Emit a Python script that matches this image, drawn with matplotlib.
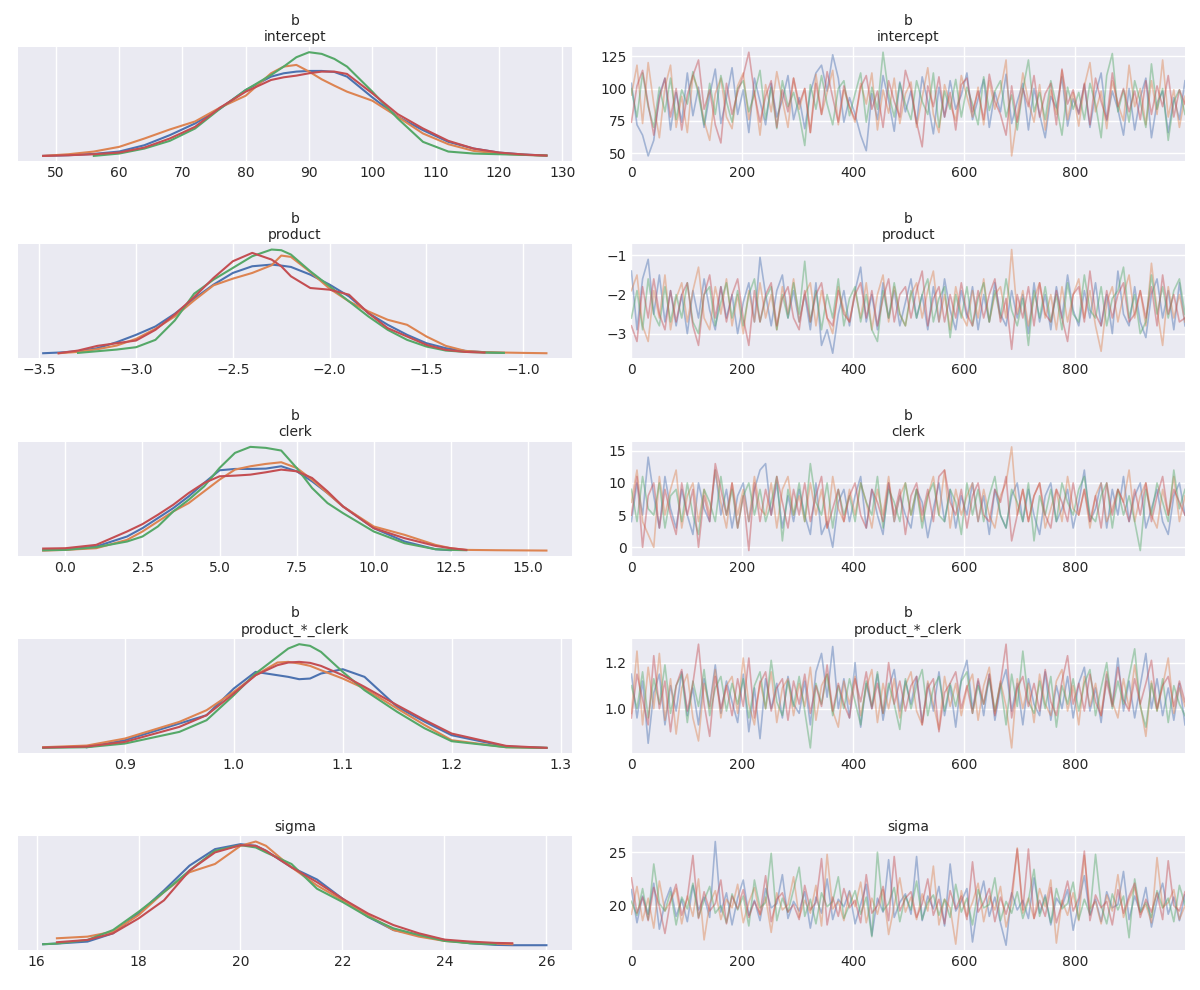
import numpy as np
import matplotlib
matplotlib.use("Agg")
import matplotlib.pyplot as plt

nan = np.nan

# ------------------------------------------------------------
# chain colours (seaborn "deep")
# ------------------------------------------------------------
chain_colors = ["#4C72B0", "#DD8452", "#55A868", "#C44E52"]

# ------------------------------------------------------------
# KDE curves (relative density, per chain)
# ------------------------------------------------------------
kde_intercept_x = [48, 52, 56, 60, 64, 68, 72, 76, 80, 84, 86, 88, 90, 92, 94, 96,
                   100, 104, 108, 112, 116, 120, 124, 127.5]
kde_intercept = [
    [3, 5, 9, 16, 35, 65, 100, 145, 200, 240, 250, 255, 257, 257, 254, 240, 178, 120, 80, 45, 25, 13, 7, 4],
    [3, 8, 16, 30, 55, 82, 106, 148, 183, 250, 270, 275, 255, 232, 213, 195, 168, 120, 70, 38, 18, 10, 6, 4],
    [nan, nan, 3, 10, 25, 48, 85, 145, 200, 245, 270, 298, 313, 308, 293, 270, 195, 115, 45, 16, 10, 8, 6, 4],
    [3, 5, 8, 13, 28, 55, 90, 148, 195, 230, 238, 243, 250, 255, 255, 248, 190, 128, 85, 48, 25, 13, 7, 4],
]

kde_product_x = [-3.48, -3.4, -3.3, -3.2, -3.1, -3.0, -2.9, -2.8, -2.7, -2.6, -2.5, -2.4, -2.3, -2.25,
                 -2.2, -2.1, -2.0, -1.9, -1.8, -1.7, -1.6, -1.5, -1.4, -1.3, -1.2, -1.1, -1.0, -0.88]
kde_product = [
    [2, 4, 8, 17, 35, 57, 82, 120, 165, 207, 242, 262, 267, 264, 260, 237, 207, 172, 122, 87, 57, 32, 17, 9, 5, 3, nan, nan],
    [nan, 2, 6, 14, 25, 45, 75, 112, 160, 205, 225, 242, 265, 294, 290, 245, 195, 157, 127, 102, 87, 52, 24, 9, 5, 4, 3, 2],
    [nan, nan, 3, 8, 13, 20, 42, 100, 180, 222, 257, 292, 312, 310, 297, 247, 202, 157, 112, 72, 42, 22, 10, 6, 4, 3, nan, nan],
    [nan, 2, 10, 24, 32, 40, 72, 118, 170, 227, 277, 302, 282, 262, 232, 197, 192, 177, 122, 77, 52, 27, 12, 6, 4, nan, nan, nan],
]

kde_clerk_x = [-0.72, 0, 1, 2, 2.5, 3, 3.5, 4, 4.5, 5, 5.5, 6, 6.5, 7, 7.5, 8, 8.5, 9,
               10, 11, 12, 12.5, 13, 14, 15.6]
kde_clerk = [
    [2, 4, 13, 43, 68, 98, 128, 163, 203, 241, 245, 245, 246, 253, 238, 208, 173, 133, 68, 28, 5, 2, nan, nan, nan],
    [1, 3, 8, 33, 58, 88, 118, 143, 178, 213, 243, 253, 260, 265, 248, 213, 173, 133, 73, 48, 18, 8, 3, 2, 1],
    [2, 3, 11, 28, 43, 73, 118, 153, 193, 248, 293, 311, 308, 300, 248, 188, 143, 113, 58, 23, 5, 3, 2, nan, nan],
    [7, 8, 18, 58, 80, 108, 138, 173, 203, 223, 225, 228, 235, 243, 238, 218, 178, 133, 68, 38, 15, 8, 3, nan, nan],
]

kde_pc_x = [0.825, 0.865, 0.9, 0.95, 0.975, 1.0, 1.02, 1.04, 1.05, 1.06, 1.07, 1.08, 1.1,
            1.12, 1.15, 1.175, 1.2, 1.25, 1.287]
kde_pc = [
    [nan, 3, 24, 74, 99, 179, 229, 219, 214, 207, 209, 224, 237, 214, 124, 80, 39, 5, 1],
    [3, 8, 29, 79, 114, 169, 219, 257, 259, 254, 247, 234, 209, 179, 119, 70, 24, 3, 1],
    [1, 3, 14, 49, 84, 159, 224, 274, 299, 312, 307, 289, 229, 174, 109, 60, 21, 3, 1],
    [2, 5, 19, 64, 99, 164, 219, 249, 257, 259, 256, 247, 219, 184, 129, 85, 44, 7, 1],
]

kde_sigma_x = [16.13, 16.4, 17, 17.5, 18, 18.5, 19, 19.5, 20, 20.3, 20.5, 21, 21.5, 22,
               22.5, 23, 23.5, 24, 24.5, 25, 25.33, 26]
kde_sigma = [
    [4, 6, 12, 37, 97, 167, 242, 292, 307, 302, 287, 237, 200, 142, 87, 47, 32, 17, 7, 2, 1, 1],
    [nan, 22, 27, 42, 92, 162, 222, 247, 302, 315, 302, 237, 182, 137, 92, 47, 27, 14, 8, 6, 4, nan],
    [4, 6, 17, 47, 102, 162, 227, 287, 304, 297, 282, 247, 172, 132, 87, 52, 32, 14, 7, 4, nan, nan],
    [nan, 10, 17, 37, 82, 137, 227, 282, 304, 302, 287, 237, 192, 142, 97, 62, 37, 18, 12, 8, 7, nan],
]

# ------------------------------------------------------------
# traces (thinned draws), draws 0..999
# ------------------------------------------------------------
trace_intercept = [
    [104, 72, 64, 48, 60, 95, 108, 68, 97, 74, 112, 79, 101, 70, 95, 115, 73, 93, 116, 80,
     99, 66, 108, 90, 72, 104, 78, 91, 110, 76, 93, 69, 97, 112, 118, 98, 126, 108, 74, 93,
     80, 64, 52, 96, 76, 110, 91, 67, 105, 82, 98, 73, 109, 90, 65, 101, 78, 106, 84, 95,
     112, 76, 92, 107, 70, 97, 82, 111, 73, 90, 104, 68, 100, 80, 62, 94, 85, 109, 71, 92,
     81, 103, 70, 96, 112, 75, 98, 84, 64, 100, 68, 93, 108, 62, 89, 98, 66, 93, 76, 106],
    [95, 118, 73, 120, 88, 62, 101, 118, 70, 94, 66, 110, 99, 75, 60, 96, 108, 78, 69, 102,
     112, 76, 98, 64, 103, 82, 113, 91, 70, 108, 84, 100, 66, 111, 80, 97, 114, 72, 99, 86,
     74, 104, 88, 112, 68, 99, 81, 108, 73, 96, 105, 70, 93, 116, 80, 66, 103, 88, 75, 110,
     94, 78, 101, 72, 106, 84, 98, 122, 48, 78, 112, 90, 74, 103, 68, 99, 80, 114, 76, 97,
     71, 102, 120, 82, 98, 69, 106, 88, 75, 118, 86, 100, 72, 106, 80, 122, 78, 99, 70, 94],
    [100, 78, 112, 86, 70, 101, 82, 108, 76, 99, 88, 113, 95, 72, 104, 80, 110, 90, 74, 100,
     106, 82, 96, 114, 76, 101, 69, 106, 86, 97, 80, 56, 103, 84, 110, 88, 72, 100, 106, 79,
     96, 112, 74, 101, 84, 128, 96, 78, 104, 88, 76, 106, 90, 80, 112, 70, 98, 84, 107, 78,
     101, 88, 72, 109, 83, 98, 106, 78, 95, 68, 99, 122, 82, 97, 76, 106, 87, 64, 101, 84,
     97, 76, 104, 88, 62, 110, 127, 82, 99, 74, 106, 90, 70, 119, 84, 100, 60, 90, 99, 80],
    [74, 102, 114, 88, 64, 92, 108, 78, 100, 68, 95, 110, 122, 84, 99, 72, 58, 104, 80, 97,
     110, 128, 96, 74, 94, 106, 70, 99, 82, 108, 88, 100, 66, 104, 80, 113, 93, 74, 102, 86,
     76, 101, 110, 84, 98, 70, 106, 90, 78, 114, 99, 74, 55, 102, 86, 109, 78, 97, 68, 103,
     108, 82, 98, 76, 111, 90, 80, 64, 102, 74, 100, 86, 110, 78, 96, 104, 72, 115, 88, 99,
     80, 104, 72, 108, 90, 76, 112, 86, 100, 82, 98, 76, 106, 80, 102, 86, 110, 78, 99, 88],
]

trace_product = [
    [-1.4, -2.9, -1.6, -1.1, -2.5, -1.5, -2.7, -1.9, -2.8, -2.0, -3.0, -1.9, -2.6, -1.6, -2.4,
     -2.9, -1.8, -2.6, -2.0, -3.0, -2.2, -1.7, -2.7, -1.05, -2.0, -2.8, -1.9, -1.5, -2.6, -1.9,
     -2.7, -2.0, -2.9, -1.7, -3.3, -2.9, -3.5, -2.5, -1.9, -2.8, -1.9, -1.3, -2.7, -2.0, -2.9,
     -1.7, -2.6, -1.9, -2.8, -2.2, -1.6, -2.6, -2.0, -2.9, -1.8, -2.7, -1.6, -2.4, -2.9, -1.9,
     -2.6, -1.8, -2.9, -2.0, -2.7, -1.7, -2.5, -2.8, -1.9, -2.6, -2.0, -3.0, -1.7, -2.7, -2.0,
     -2.9, -1.8, -2.6, -1.5, -2.4, -2.8, -1.9, -2.6, -1.7, -2.8, -2.0, -3.0, -1.4, -2.5, -2.8,
     -1.8, -2.7, -3.1, -2.0, -1.6, -2.6, -1.9, -2.9, -1.7, -2.8],
    [-1.9, -1.5, -2.8, -3.2, -1.9, -2.6, -1.5, -2.9, -2.1, -1.7, -2.7, -1.9, -1.3, -2.6, -2.9,
     -1.8, -2.5, -1.6, -2.8, -2.0, -3.0, -1.9, -2.7, -1.7, -2.6, -2.0, -2.9, -1.8, -2.5, -1.6,
     -2.7, -2.0, -1.7, -2.8, -1.9, -2.6, -3.0, -1.8, -2.4, -2.7, -1.9, -2.6, -1.7, -2.9, -2.0,
     -1.5, -2.7, -1.8, -2.5, -2.8, -2.0, -1.7, -2.6, -1.9, -1.4, -2.7, -2.0, -2.9, -1.8, -2.5,
     -2.8, -1.9, -2.6, -1.6, -2.7, -2.0, -1.8, -2.6, -0.85, -2.5, -1.9, -2.8, -2.1, -1.7, -2.6,
     -2.0, -2.9, -1.8, -2.7, -2.0, -1.6, -2.6, -1.9, -2.8, -3.45, -2.2, -1.8, -2.7, -2.0, -1.5,
     -2.6, -1.9, -2.8, -1.2, -2.4, -3.3, -1.8, -2.6, -2.0, -2.7],
    [-2.6, -1.9, -2.9, -1.6, -2.5, -2.8, -1.8, -2.7, -2.0, -2.6, -1.7, -2.7, -3.0, -2.0, -1.8,
     -2.8, -2.2, -1.7, -2.6, -1.9, -2.8, -2.0, -1.6, -2.7, -2.1, -1.8, -2.9, -2.0, -2.6, -1.7,
     -2.5, -1.15, -2.7, -1.9, -2.9, -2.0, -2.6, -1.6, -2.8, -2.1, -1.8, -2.7, -2.0, -2.9, -3.2,
     -1.9, -2.6, -1.7, -2.5, -2.8, -1.9, -2.6, -2.0, -1.6, -2.7, -2.1, -1.8, -3.1, -2.0, -2.6,
     -1.8, -2.8, -2.1, -1.7, -2.7, -1.9, -2.6, -1.6, -2.4, -2.8, -2.1, -3.3, -1.9, -2.6, -1.8,
     -2.7, -2.0, -2.9, -1.7, -2.5, -2.7, -1.5, -2.4, -2.6, -1.8, -2.8, -2.1, -1.9, -1.3, -2.6,
     -2.0, -3.0, -2.7, -1.5, -2.5, -1.8, -2.6, -1.9, -1.6, -2.5],
    [-2.8, -3.2, -1.8, -2.6, -1.6, -2.5, -2.9, -1.9, -2.7, -2.0, -1.7, -2.8, -3.3, -2.0, -1.5,
     -2.6, -1.8, -2.7, -2.0, -1.6, -2.6, -3.3, -1.9, -2.7, -2.0, -1.7, -2.8, -2.1, -1.8, -2.6,
     -2.9, -1.9, -2.7, -2.0, -1.7, -2.6, -2.8, -1.9, -2.5, -2.7, -2.0, -1.7, -2.6, -1.9, -2.8,
     -2.1, -1.6, -2.7, -2.0, -1.8, -2.6, -1.9, -1.4, -2.8, -2.1, -1.8, -2.7, -2.0, -2.6, -1.7,
     -2.5, -2.8, -1.9, -2.6, -2.0, -1.6, -2.7, -2.1, -3.4, -2.0, -2.6, -1.8, -2.8, -1.7, -2.5,
     -2.7, -1.9, -2.6, -3.2, -2.0, -1.8, -2.7, -1.4, -2.5, -2.8, -1.9, -2.6, -2.0, -1.7, -2.7,
     -2.5, -1.9, -2.6, -1.8, -2.8, -1.5, -2.5, -2.0, -2.7, -2.6],
]

trace_clerk = [
    [4, 10, 5, 14, 8, 3, 11, 6, 3, 9, 5, 2, 10, 6, 4, 12, 5, 9, 3, 8,
     10, 4, 9, 12, 13, 5, 10, 3, 8, 4, 9, 5, 2, 10, 2, 4, 0, 7, 9, 4,
     8, 11, 3, 9, 5, 2, 10, 4, 8, 5, 3, 9, 7, 1.5, 6, 10, 4, 9, 3, 8,
     5, 10, 4, 8, 2, 9, 5, 3, 8, 10, 4, 9, 5, 2, 8, 10, 4, 6, 9, 3,
     7, 12, 4, 6, 10, 3, 9, 5, 11, 4, 8, 10, 3, 6, 9, 4, 2, 8, 10, 5],
    [7, 12, 4, 2, 0, 11, 5, 9, 12, 3, 8, 10, 4, 9, 5, 12, 7, 3, 10, 5,
     9, 4, 11, 6, 5, 10, 3, 9, 11, 5, 8, 4, 10, 5, 9, 3, 11, 6, 4, 9,
     5, 10, 7, 3, 9, 5, 11, 4, 8, 10, 5, 9, 4, 8, 11, 5, 12, 3, 9, 5,
     8, 10, 4, 9, 5, 3, 8, 10, 15.6, 5, 9, 4, 8, 10, 3, 6, 9, 4, 11, 6,
     5, 9, 3, 8, 10, 4, 6, 9, 7, 12, 4, 8, 10, 5, 3, 9, 5, 11, 4, 8],
    [9, 4, 11, 6, 5, 10, 3, 8, 9, 4, 10, 5, 2, 9, 7, 4, 11, 5, 9, 3,
     8, 10, 5, 9, 4, 7, 11, 1, 9, 5, 10, 4, 13, 7, 5, 10, 3, 9, 5, 8,
     4, 10, 7, 5, 11, 3, 9, 7, 4, 10, 5, 9, 3, 8, 10, 5, 4, 9, 7, 2,
     10, 5, 9, 4, 8, 11, 5, 3, 9, 7, 4, 10, 1, 8, 5, 9, 4, 10, 7, 5,
     9, 11, 5, 4, 8, 10, 3, 9, 5, 8, 4, -0.5, 9, 5, 10, 7, 4, 12, 6, 9],
    [5, 11, 0, 8, 10, 3, 9, 5, 2, 10, 5, 9, 0, 8, 4, 13, 9, 5, 10, 3,
     8, -0.5, 10, 4, 9, 5, 11, 7, 3, 9, 5, 10, 4, 8, 11, 3, 6, 9, 4, 8,
     10, 5, 3, 9, 7, 4, 10, 5, 9, 2, 8, 10, 5, 9, 4, 11, 12, 7, 5, 9,
     3, 8, 10, 5, 4, 9, 7, 11, 1, 5, 9, 4, 8, 10, 5, 3, 9, 7, 4, 10,
     5, 9, 4, 8, 3, 10, 5, 9, 7, 4, 9, 5, 10, 4, 8, 11, 5, 9, 7, 5],
]

trace_pc = [
    [1.15, 0.96, 1.12, 0.85, 1.07, 1.15, 0.93, 1.10, 0.99, 1.16, 0.97, 1.09, 0.93, 1.13, 1.01,
     1.19, 0.98, 1.12, 1.03, 0.94, 1.15, 0.90, 1.09, 0.87, 1.13, 1.00, 1.11, 0.96, 1.14, 1.02,
     0.98, 1.12, 0.93, 1.16, 1.24, 1.05, 1.27, 1.00, 1.13, 0.96, 1.20, 0.92, 1.11, 1.00, 1.15,
     0.95, 1.09, 1.17, 0.99, 1.12, 1.02, 1.14, 0.94, 1.11, 0.99, 1.16, 0.97, 1.10, 0.92, 1.13,
     1.21, 1.00, 1.12, 0.97, 1.15, 0.95, 1.09, 1.17, 0.99, 1.11, 0.93, 1.13, 1.02, 0.97, 1.16,
     0.95, 1.10, 1.00, 1.14, 0.96, 1.11, 1.18, 0.99, 1.09, 0.94, 1.15, 1.02, 1.22, 0.99, 1.12,
     0.96, 1.10, 1.24, 1.00, 1.13, 0.97, 1.09, 0.95, 1.11, 0.93],
    [0.98, 1.25, 0.93, 1.18, 1.00, 1.24, 0.95, 1.13, 0.89, 1.09, 1.15, 0.96, 0.86, 1.11, 1.00,
     1.17, 0.96, 1.10, 1.14, 0.98, 1.22, 1.02, 0.93, 1.12, 1.00, 1.16, 0.94, 1.09, 1.13, 0.97,
     1.11, 1.01, 1.18, 0.95, 1.10, 1.15, 0.99, 0.92, 1.12, 1.02, 1.14, 0.97, 1.09, 1.17, 0.94,
     1.11, 1.00, 1.13, 0.96, 1.10, 1.16, 0.99, 0.93, 1.12, 1.02, 0.91, 1.14, 1.01, 1.11, 0.97,
     1.09, 1.15, 0.95, 1.10, 1.18, 0.98, 1.12, 1.01, 0.83, 1.13, 1.00, 1.11, 0.94, 1.15, 1.02,
     0.97, 1.12, 1.17, 0.99, 1.10, 0.93, 1.14, 1.01, 1.11, 0.97, 1.16, 1.03, 0.96, 1.13, 1.00,
     1.19, 1.02, 0.88, 1.12, 0.99, 1.10, 1.22, 0.98, 1.09, 1.01],
    [1.10, 1.00, 1.16, 0.96, 1.13, 1.02, 1.19, 0.98, 1.10, 1.15, 0.94, 1.12, 1.01, 1.17, 0.97,
     1.09, 1.14, 0.99, 1.11, 1.02, 1.13, 0.96, 1.10, 1.16, 1.00, 1.21, 1.03, 0.97, 1.12, 1.01,
     1.14, 0.99, 0.83, 1.11, 1.02, 1.15, 0.97, 1.10, 1.00, 1.13, 1.03, 0.93, 1.12, 1.01, 1.16,
     0.98, 1.11, 1.02, 0.91, 1.13, 1.00, 1.10, 1.17, 0.97, 1.09, 1.14, 0.99, 1.11, 1.01, 1.12,
     1.16, 0.98, 1.10, 1.02, 1.13, 0.99, 1.11, 0.93, 1.15, 1.01, 1.25, 1.03, 0.98, 1.12, 1.00,
     1.14, 0.92, 1.10, 1.02, 1.13, 0.99, 1.11, 1.17, 0.97, 1.09, 1.20, 1.00, 1.12, 1.02, 1.14,
     1.26, 1.01, 0.92, 1.11, 0.99, 1.13, 0.94, 1.10, 1.02, 0.97],
    [0.96, 1.15, 1.04, 0.93, 1.23, 1.00, 1.12, 0.90, 1.10, 1.17, 0.99, 1.11, 1.28, 1.02, 0.88,
     1.14, 1.00, 1.10, 0.97, 1.13, 1.01, 1.22, 0.96, 1.11, 1.16, 0.99, 1.09, 1.13, 0.95, 1.12,
     1.02, 1.15, 0.98, 1.10, 1.01, 1.19, 0.99, 1.11, 1.02, 0.96, 1.13, 1.03, 1.16, 1.00, 1.11,
     0.98, 1.20, 1.02, 1.12, 0.99, 1.10, 1.14, 0.93, 1.09, 1.13, 0.90, 1.07, 1.11, 1.16, 1.00,
     1.10, 0.98, 1.13, 1.02, 1.15, 0.97, 1.11, 1.28, 0.96, 1.09, 1.14, 1.01, 1.11, 0.99, 1.17,
     1.03, 0.97, 1.12, 1.23, 1.02, 1.11, 0.99, 1.15, 1.03, 0.97, 1.12, 1.01, 1.18, 1.04, 0.99,
     1.13, 1.02, 1.11, 1.21, 1.00, 1.10, 1.14, 1.01, 1.12, 1.03],
]

trace_sigma = [
    [21.5, 18.4, 20.9, 19.2, 22.1, 17.8, 20.3, 21.7, 19.0, 20.6, 18.5, 21.9, 19.6, 20.8, 18.9,
     26.0, 19.4, 21.2, 18.2, 20.7, 22.4, 19.1, 20.5, 18.6, 21.6, 19.8, 20.2, 22.9, 18.8, 20.4,
     19.5, 21.3, 17.9, 20.8, 19.3, 22.5, 18.7, 20.6, 19.9, 21.4, 18.3, 20.1, 22.0, 17.2, 20.7,
     19.4, 24.3, 18.9, 20.3, 21.1, 19.2, 24.6, 18.6, 20.9, 19.7, 21.8, 18.1, 23.9, 19.5, 20.4,
     21.6, 16.6, 20.2, 22.3, 19.0, 20.8, 18.4, 16.3, 21.2, 19.6, 20.5, 18.8, 22.6, 19.3, 21.0,
     18.2, 20.7, 19.9, 21.5, 17.7, 20.3, 22.8, 19.1, 20.6, 18.5, 21.3, 19.8, 20.1, 23.2, 18.7,
     20.9, 19.4, 21.7, 18.0, 20.5, 22.1, 19.2, 20.8, 18.6, 21.0],
    [19.2, 21.8, 18.6, 20.7, 17.9, 22.3, 19.5, 20.4, 21.6, 18.3, 20.9, 19.0, 22.5, 16.8, 20.2,
     21.4, 18.7, 20.6, 19.8, 22.0, 18.4, 20.3, 21.7, 19.1, 20.8, 17.5, 21.2, 19.6, 20.1, 22.7,
     18.9, 20.5, 19.3, 21.9, 18.1, 24.8, 19.7, 20.4, 18.6, 21.3, 19.9, 22.2, 18.4, 20.7, 19.2,
     21.5, 17.3, 20.0, 22.6, 19.4, 20.8, 18.7, 21.1, 19.5, 23.7, 18.2, 20.6, 19.8, 16.4, 21.4,
     19.0, 20.3, 22.1, 18.5, 20.9, 19.6, 21.8, 18.0, 20.2, 25.4, 19.3, 20.7, 18.8, 21.6, 19.9,
     22.4, 16.5, 20.5, 19.1, 21.2, 18.6, 24.7, 19.7, 20.4, 18.3, 21.0, 19.5, 22.9, 18.9, 20.6,
     21.7, 19.2, 20.1, 18.4, 24.5, 19.8, 20.3, 21.5, 18.7, 20.0],
    [20.4, 19.1, 21.6, 18.7, 23.9, 20.2, 19.5, 21.3, 18.2, 20.8, 19.7, 22.1, 18.9, 20.5, 21.8,
     19.3, 20.0, 18.4, 21.1, 19.6, 20.9, 18.1, 22.4, 19.8, 20.3, 24.9, 18.6, 20.7, 19.4, 21.5,
     23.6, 19.0, 20.6, 18.3, 21.2, 19.9, 20.4, 22.7, 18.8, 20.1, 21.4, 19.2, 20.8, 17.1, 25.0,
     19.5, 20.2, 21.7, 18.5, 20.9, 19.6, 22.3, 18.7, 20.3, 21.0, 19.1, 20.6, 18.9, 22.0, 19.4,
     20.7, 18.2, 21.5, 19.8, 20.1, 22.6, 18.6, 20.4, 19.3, 21.3, 18.8, 20.5, 23.4, 19.0, 20.8,
     18.4, 21.6, 19.7, 20.2, 22.2, 18.7, 20.6, 19.2, 24.8, 20.0, 18.3, 21.1, 19.6, 20.9, 17.0,
     22.5, 19.4, 20.3, 18.9, 21.4, 19.8, 20.7, 18.5, 21.9, 20.1],
    [22.6, 19.3, 20.8, 18.6, 21.7, 19.9, 17.4, 20.5, 22.0, 19.1, 20.7, 24.7, 18.8, 21.3, 19.5,
     20.2, 22.4, 18.3, 20.9, 19.7, 21.5, 18.9, 20.4, 19.2, 22.8, 18.5, 20.6, 21.2, 19.4, 20.1,
     18.7, 21.9, 19.6, 20.3, 24.4, 18.2, 20.8, 19.0, 21.6, 19.8, 20.5, 18.4, 22.9, 19.3, 20.0,
     21.8, 18.6, 24.6, 19.5, 20.7, 21.3, 18.9, 20.2, 22.5, 19.1, 20.6, 18.3, 21.4, 19.7, 20.9,
     18.7, 24.1, 19.4, 20.3, 21.6, 18.5, 20.8, 19.2, 21.1, 25.3, 19.6, 25.3, 18.8, 20.5, 19.0,
     21.7, 18.4, 20.2, 22.3, 19.5, 20.7, 25.1, 18.6, 21.0, 19.8, 20.4, 18.2, 21.5, 19.3, 20.9,
     22.1, 18.9, 20.6, 19.4, 21.2, 18.7, 24.2, 20.0, 19.5, 21.3],
]

# ------------------------------------------------------------
# titles and tick labels
# ------------------------------------------------------------
titles = ["b\nintercept", "b\nproduct", "b\nclerk", "b\nproduct_*_clerk", "sigma"]
kde_xticks = [
    [50, 60, 70, 80, 90, 100, 110, 120, 130],
    [-3.5, -3.0, -2.5, -2.0, -1.5, -1.0],
    [0.0, 2.5, 5.0, 7.5, 10.0, 12.5, 15.0],
    [0.9, 1.0, 1.1, 1.2, 1.3],
    [16, 18, 20, 22, 24, 26],
]
trace_yticks = [
    [50, 75, 100, 125],
    [-3, -2, -1],
    [0, 5, 10, 15],
    [1.0, 1.2],
    [20, 25],
]
trace_xticks = [0, 200, 400, 600, 800]
n_draws = 1000

kde_rows = [
    (kde_intercept_x, kde_intercept),
    (kde_product_x, kde_product),
    (kde_clerk_x, kde_clerk),
    (kde_pc_x, kde_pc),
    (kde_sigma_x, kde_sigma),
]
trace_rows = [trace_intercept, trace_product, trace_clerk, trace_pc, trace_sigma]


# ------------------------------------------------------------
# style: seaborn darkgrid look
# ------------------------------------------------------------
plt.rcParams.update({
    "font.family": ["DejaVu Sans"],
    "font.size": 10,
    "axes.facecolor": "#EAEAF2",
    "axes.edgecolor": "white",
    "axes.grid": True,
    "grid.color": "white",
    "grid.linewidth": 1.0,
    "axes.spines.left": False,
    "axes.spines.right": False,
    "axes.spines.top": False,
    "axes.spines.bottom": False,
    "xtick.major.size": 0,
    "ytick.major.size": 0,
    "xtick.color": "#262626",
    "ytick.color": "#262626",
    "text.color": "#262626",
    "axes.titlesize": 10,
    "xtick.labelsize": 10,
    "ytick.labelsize": 10,
    "axes.axisbelow": True,
})

fig, axes = plt.subplots(5, 2, figsize=(12, 9.9), dpi=100,
                         gridspec_kw=dict(left=0.015, right=0.9875, top=0.9525,
                                          bottom=0.040, wspace=0.108, hspace=0.73))

for row in range(5):
    ax_kde, ax_tr = axes[row]

    # density
    xs, curves = kde_rows[row]
    for c, ys in enumerate(curves):
        ax_kde.plot(xs, ys, color=chain_colors[c], lw=1.5)
    ax_kde.set_yticks([])
    ax_kde.grid(axis="y", visible=False)
    ax_kde.set_xticks(kde_xticks[row])
    if row == 2:
        ax_kde.set_xticklabels([f"{t:.1f}" for t in kde_xticks[row]])
    ax_kde.set_title(titles[row], pad=4)

    # trace
    for c, vals in enumerate(trace_rows[row]):
        steps = np.linspace(0, n_draws - 1, len(vals))
        ax_tr.plot(steps, vals, color=chain_colors[c], lw=1.2, alpha=0.45)
    ax_tr.set_xlim(0, n_draws - 1)
    ax_tr.set_xticks(trace_xticks)
    ax_tr.set_yticks(trace_yticks[row])
    ax_tr.set_title(titles[row], pad=4)

fig.savefig("out.png", dpi=100)
